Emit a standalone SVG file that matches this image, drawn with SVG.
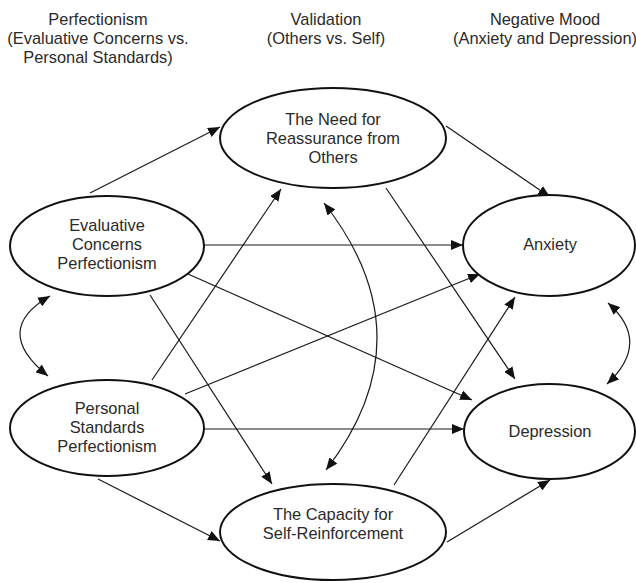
<svg xmlns="http://www.w3.org/2000/svg" width="636" height="583" viewBox="0 0 636 583">
<defs>
<marker id="ah" viewBox="0 0 12 10" refX="12" refY="5" markerWidth="12" markerHeight="10" markerUnits="userSpaceOnUse" orient="auto-start-reverse">
<path d="M0,0 L12,5 L0,10 Z" fill="#111"/>
</marker>
<style>
text{font-family:"Liberation Sans",Arial,sans-serif;font-size:16.4px;fill:#2a2a2a;text-anchor:middle}
.node ellipse{fill:#fff;stroke:#111;stroke-width:2}
#connectors path,#connectors line{fill:none;stroke:#1a1a1a;stroke-width:1.2}
</style>
</defs>
<rect width="636" height="583" fill="#fff"/>
<g id="headers">
<text x="98" y="25">Perfectionism</text>
<text x="98" y="44">(Evaluative Concerns vs.</text>
<text x="98" y="63">Personal Standards)</text>
<text x="326" y="25">Validation</text>
<text x="326" y="44">(Others vs. Self)</text>
<text x="545" y="25">Negative Mood</text>
<text x="545" y="44">(Anxiety and Depression)</text>
</g>
<g id="connectors">
<line x1="90" y1="193" x2="220" y2="127" marker-end="url(#ah)"/>
<line x1="446" y1="126" x2="550" y2="197" marker-end="url(#ah)"/>
<line x1="204" y1="245" x2="463" y2="245" marker-end="url(#ah)"/>
<line x1="204" y1="429" x2="464" y2="429" marker-end="url(#ah)"/>
<line x1="152" y1="380" x2="281" y2="189" marker-end="url(#ah)"/>
<line x1="188" y1="274" x2="472" y2="400" marker-end="url(#ah)"/>
<line x1="185" y1="394" x2="480" y2="274" marker-end="url(#ah)"/>
<line x1="150" y1="295" x2="272" y2="484" marker-end="url(#ah)"/>
<line x1="386" y1="188" x2="515" y2="379" marker-end="url(#ah)"/>
<line x1="394" y1="485" x2="515" y2="297" marker-end="url(#ah)"/>
<line x1="98" y1="479" x2="220" y2="541" marker-end="url(#ah)"/>
<line x1="447" y1="542" x2="550" y2="480" marker-end="url(#ah)"/>
<path d="M324,203 Q429,337 326,470" marker-start="url(#ah)" marker-end="url(#ah)"/>
<path d="M50,296 Q-9,330 48,376" marker-start="url(#ah)" marker-end="url(#ah)"/>
<path d="M608,303 Q652,342 607,384" marker-start="url(#ah)" marker-end="url(#ah)"/>
</g>
<g id="need" class="node">
<ellipse cx="333" cy="138" rx="113" ry="50"/>
<text x="333" y="125">The Need for</text>
<text x="333" y="144">Reassurance from</text>
<text x="333" y="163">Others</text>
</g>
<g id="evaluative" class="node">
<ellipse cx="107" cy="246" rx="97" ry="50"/>
<text x="107" y="231">Evaluative</text>
<text x="107" y="250">Concerns</text>
<text x="107" y="269">Perfectionism</text>
</g>
<g id="personal" class="node">
<ellipse cx="107" cy="428" rx="97" ry="48"/>
<text x="107" y="414">Personal</text>
<text x="107" y="433">Standards</text>
<text x="107" y="452">Perfectionism</text>
</g>
<g id="anxiety" class="node">
<ellipse cx="549" cy="245.5" rx="86" ry="50.5"/>
<text x="550" y="250">Anxiety</text>
</g>
<g id="depression" class="node">
<ellipse cx="549.5" cy="431.5" rx="85.5" ry="47.5"/>
<text x="550" y="437">Depression</text>
</g>
<g id="capacity" class="node">
<ellipse cx="333" cy="532" rx="113" ry="48"/>
<text x="333" y="520">The Capacity for</text>
<text x="333" y="539">Self-Reinforcement</text>
</g>
</svg>
